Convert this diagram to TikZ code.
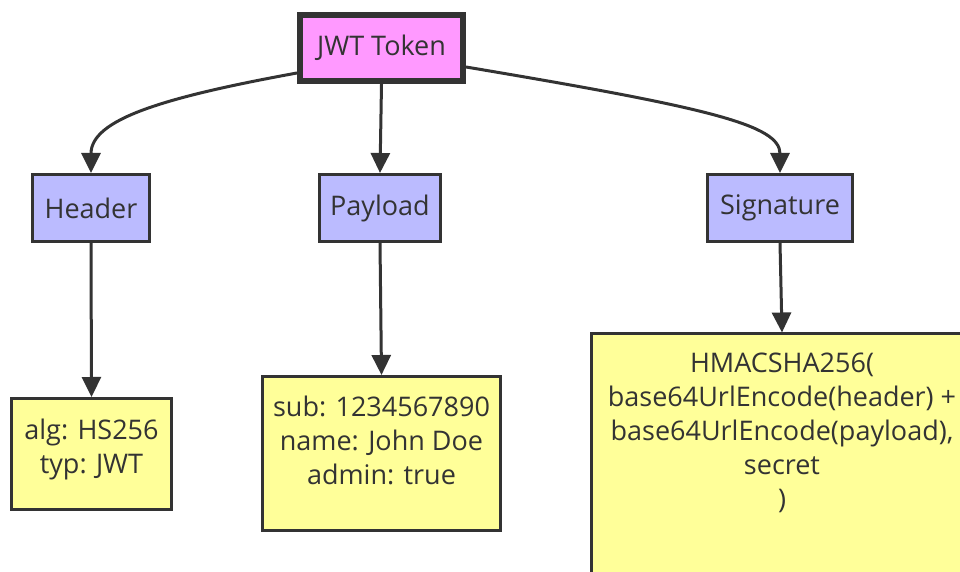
\documentclass[tikz,border=0pt]{standalone}
\usepackage{fontspec}
\setmainfont{Open Sans}
\usetikzlibrary{arrows.meta}
\definecolor{edgegray}{HTML}{333333}
\definecolor{rootfill}{HTML}{FF99FF}
\definecolor{partfill}{HTML}{BBBBFF}
\definecolor{notefill}{HTML}{FFFF99}
\begin{document}
\begin{tikzpicture}[x=1pt,y=1pt,
  every node/.style={font=\fontsize{27}{34}\selectfont, text=edgegray, inner sep=0pt},
  rootbox/.style={draw=edgegray, line width=6pt, fill=rootfill, minimum width=163pt, minimum height=66pt},
  partbox/.style={draw=edgegray, line width=3pt, fill=partfill, minimum height=67pt},
  notebox/.style={draw=edgegray, line width=3pt, fill=notefill},
  notetext/.style={align=center},
  link/.style={draw=edgegray, line width=3pt, -{Triangle[length=20pt,width=19pt]}}]
\useasboundingbox (0,0) rectangle (960,572);
\clip (0,0) rectangle (960,572);

% top-level token
\node[rootbox] (jwt) at (381.5,524) {JWT Token};

% the three parts
\node[partbox, minimum width=117pt] (header) at (91,364) {Header};
\node[partbox, minimum width=121pt] (payload) at (380,364) {Payload};
\node[partbox, minimum width=145pt] (signature) at (780,364) {Signature};

% contents of each part
\node[notebox, minimum width=160pt, minimum height=111pt] (hbox) at (91.5,118) {};
\node[notetext] (htext) at (91.5,122.5) {alg: HS256\\typ: JWT};

\node[notebox, minimum width=238pt, minimum height=154pt] (pbox) at (381.5,118.5) {};
\node[notetext] (ptext) at (381.5,132) {sub: 1234567890\\name: John Doe\\admin: true};

\node[notebox, minimum width=382pt, minimum height=264pt] (sbox) at (782,106) {};
\node[notetext] (stext) at (782,139) {HMACSHA256(\\base64UrlEncode(header) +\\base64UrlEncode(payload),\\secret\\)};

% connectors
\draw[link] ([yshift=-25pt]jwt.west) .. controls (160,474) and (91,452) .. (header.north);
\draw[link] (jwt.south) -- (payload.north);
\draw[link] ([yshift=-19pt]jwt.east) .. controls (710,464) and (780,447) .. (signature.north);
\draw[link] (header.south) -- (hbox.north);
\draw[link] (payload.south) -- (pbox.north);
\draw[link] (signature.south) -- (sbox.north);
\end{tikzpicture}
\end{document}
